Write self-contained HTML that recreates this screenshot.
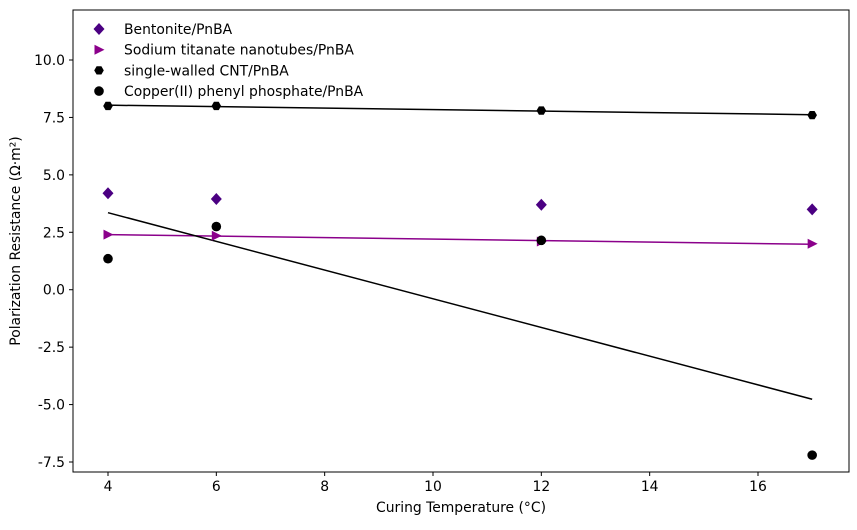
<!DOCTYPE html>
<html><head><meta charset="utf-8">
<style>
html,body{margin:0;padding:0;background:#fff;}
svg text{font-family:"DejaVu Sans","Liberation Sans",sans-serif;fill:#000;}
</style></head>
<body>
<svg id="chart" width="857" height="525" xmlns="http://www.w3.org/2000/svg"></svg>
<script>
const xValues=[4,6,12,17];
const bentonite=[4.2,3.95,3.7,3.5];
const titanate=[2.4,2.35,2.1,2.0];
const cnt=[8.0,8.0,7.8,7.6];
const copper=[1.35,2.75,2.15,-7.2];
const xTicks=[4,6,8,10,12,14,16];
const yTicks=[-7.5,-5.0,-2.5,0.0,2.5,5.0,7.5,10.0];
const seriesNames=["Bentonite/PnBA","Sodium titanate nanotubes/PnBA","single-walled CNT/PnBA","Copper(II) phenyl phosphate/PnBA"];

const L=73,R=849,T=10,B=472;
const X0=3.354,X1=17.68,Y0=-7.935,Y1=12.177;
const FS=13.9;
const sx=v=>L+(v-X0)/(X1-X0)*(R-L);
const sy=v=>B-(v-Y0)/(Y1-Y0)*(B-T);
const svg=document.getElementById('chart');
const NS="http://www.w3.org/2000/svg";
function mk(tag,attrs,parent){const e=document.createElementNS(NS,tag);for(const k in attrs)e.setAttribute(k,attrs[k]);(parent||svg).appendChild(e);return e;}

const frame=mk('rect',{x:L,y:T,width:R-L,height:B-T,fill:'none',stroke:'#000','stroke-width':1});



xTicks.forEach(t=>{
  const g=mk('g',{});
  
  
  mk('line',{x1:sx(t),x2:sx(t),y1:B,y2:B+4,stroke:'#000'},g);
  const tx=mk('text',{x:sx(t),y:B+19,'text-anchor':'middle','font-size':FS},g);tx.textContent=t;
});
yTicks.forEach(t=>{
  const g=mk('g',{});
  
  
  mk('line',{x1:L-4,x2:L,y1:sy(t),y2:sy(t),stroke:'#000'},g);
  const tx=mk('text',{x:L-8,y:sy(t)+5,'text-anchor':'end','font-size':FS},g);tx.textContent=t.toFixed(1);
});
const xt=mk('text',{x:(L+R)/2,y:512,'text-anchor':'middle','font-size':FS});
xt.textContent='Curing Temperature (°C)';


const yt=mk('text',{x:0,y:0,'text-anchor':'middle','font-size':FS,transform:`translate(20,${(T+B)/2}) rotate(-90)`});
yt.textContent='Polarization Resistance (Ω·m²)';



function fit(xs,ys){const n=xs.length;const mx=xs.reduce((a,b)=>a+b)/n,my=ys.reduce((a,b)=>a+b)/n;let sxy=0,sxx=0;xs.forEach((x,i)=>{sxy+=(x-mx)*(ys[i]-my);sxx+=(x-mx)**2;});const m=sxy/sxx;return x=>my+m*(x-mx);}
function trend(ys,color,name){
  const f=fit(xValues,ys);const a=xValues[0],b=xValues[xValues.length-1];
  const l=mk('line',{x1:sx(a),y1:sy(f(a)),x2:sx(b),y2:sy(f(b)),stroke:color,'stroke-width':1.5});
  
  
}
trend(titanate,'#8b008b','titanate-trendline');
trend(cnt,'#000','cnt-trendline');
trend(copper,'#000','copper-trendline');

function marker(kind,cx,cy,color,parent){
  if(kind==='diamond')return mk('polygon',{points:`${cx},${cy-6} ${cx+5.5},${cy} ${cx},${cy+6} ${cx-5.5},${cy}`,fill:color},parent);
  if(kind==='tri')return mk('polygon',{points:`${cx-4.5},${cy-5} ${cx+5.5},${cy} ${cx-4.5},${cy+5}`,fill:color},parent);
  if(kind==='hex'){let p=[];for(let i=0;i<6;i++){const a=Math.PI/3*i;p.push((cx+4.8*Math.cos(a))+','+(cy+4.8*Math.sin(a)));}return mk('polygon',{points:p.join(' '),fill:color},parent);}
  return mk('circle',{cx:cx,cy:cy,r:4.8,fill:color},parent);
}
const specs=[[bentonite,'diamond','#4b0082','bentonite-point'],[titanate,'tri','#8b008b','titanate-point'],[cnt,'hex','#000','cnt-point'],[copper,'circle','#000','copper-point']];
specs.forEach(([ys,k,c,n])=>{
  ys.forEach((y,i)=>{const m=marker(k,sx(xValues[i]),sy(y),c);
    
    });
});
specs.forEach(([ys,k,c],i)=>{
  const g=mk('g',{});
  
  
  const y=29+i*20.7;
  marker(k,99,y,c,g);
  const t=mk('text',{x:124,y:y+5,'font-size':FS},g);t.textContent=seriesNames[i];
});
</script>
</body></html>
